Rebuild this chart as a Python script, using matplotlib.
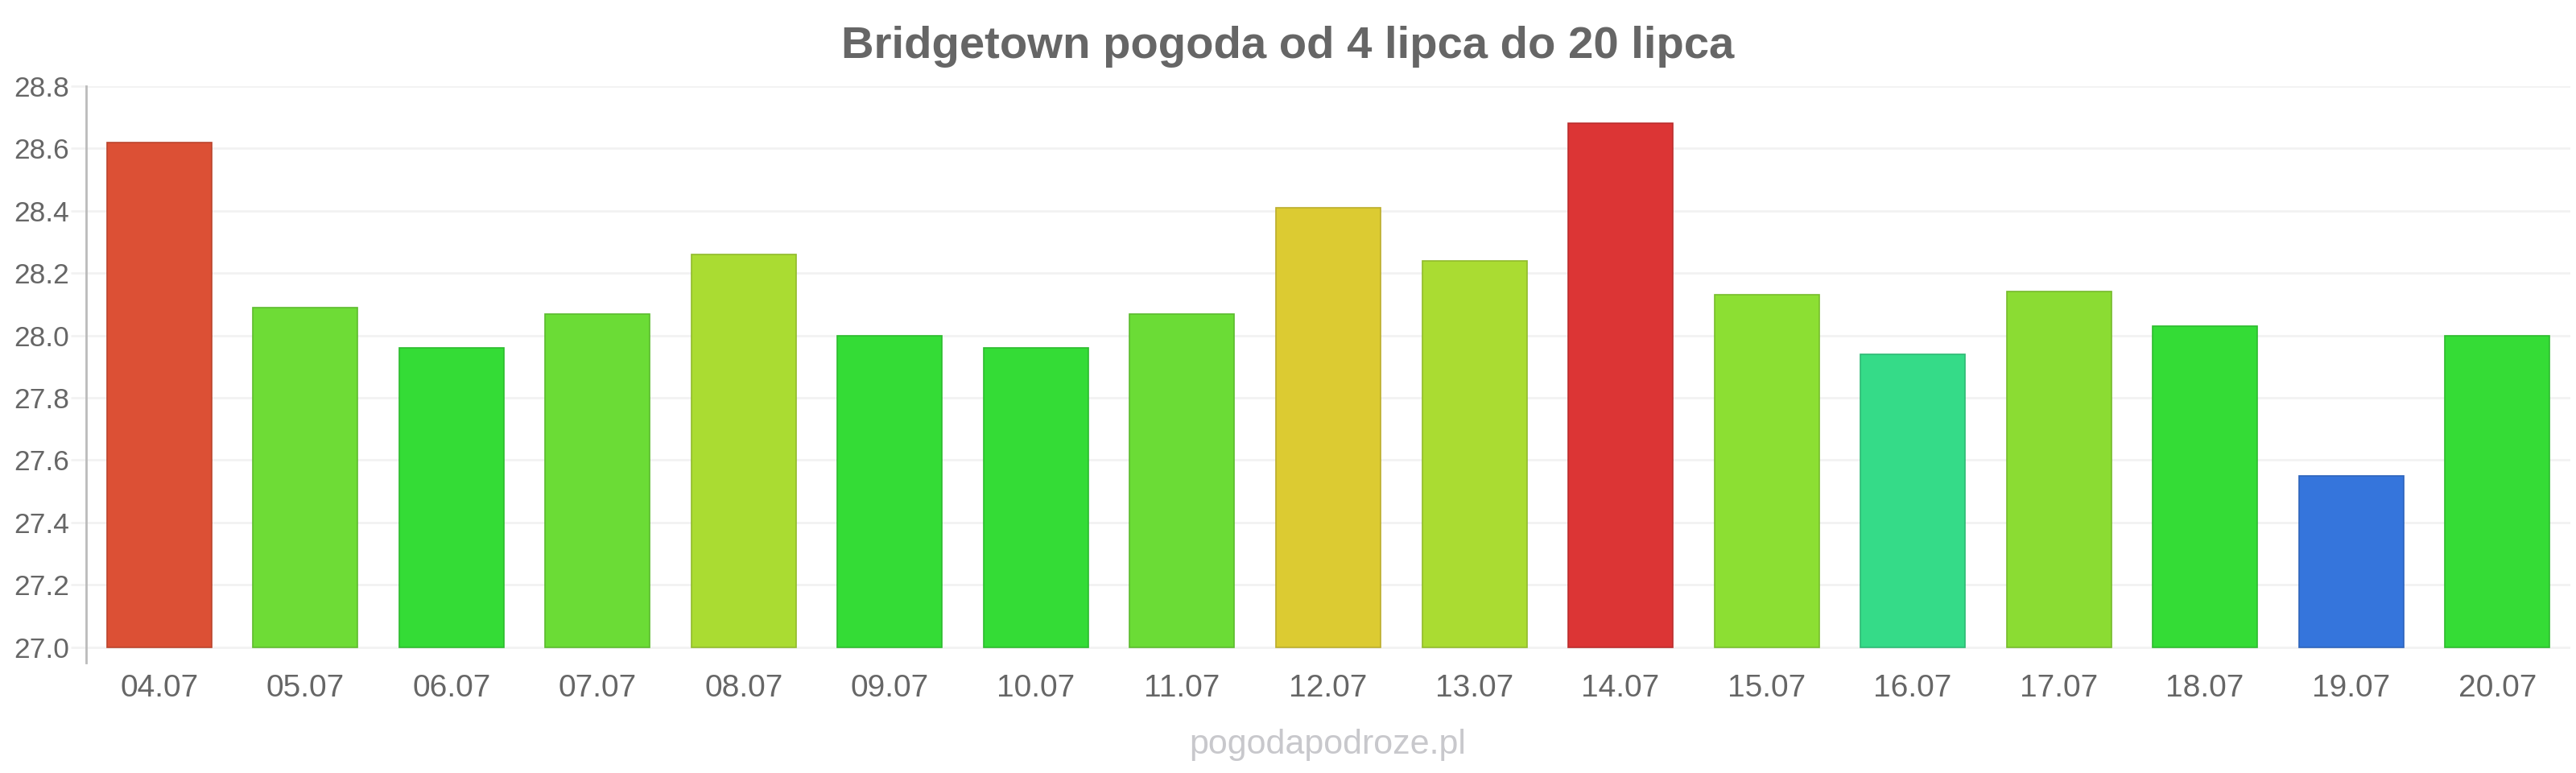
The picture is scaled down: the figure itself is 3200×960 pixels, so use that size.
import matplotlib
matplotlib.use("Agg")
import matplotlib.pyplot as plt
import matplotlib.colors as mcolors

plt.rcParams['font.family'] = ['Liberation Sans', 'DejaVu Sans']

title = "Bridgetown pogoda od 4 lipca do 20 lipca"
watermark = "pogodapodroze.pl"
days = ["04.07", "05.07", "06.07", "07.07", "08.07", "09.07", "10.07", "11.07",
        "12.07", "13.07", "14.07", "15.07", "16.07", "17.07", "18.07", "19.07", "20.07"]
temps = [28.62, 28.09, 27.96, 28.07, 28.26, 28.00, 27.96, 28.07,
         28.41, 28.24, 28.68, 28.13, 27.94, 28.14, 28.03, 27.55, 28.00]
colors = ["#dc5035", "#6edc36", "#34dc36", "#6bdc36", "#aadc32", "#34dc36", "#34dc36", "#6bdc36",
          "#dccb32", "#aadc32", "#dc3535", "#8cdf33", "#35db88", "#8bdc33", "#34dc36", "#3575dc", "#35dc36"]
yticks = [27.0, 27.2, 27.4, 27.6, 27.8, 28.0, 28.2, 28.4, 28.6, 28.8]
base = 27.0

fig = plt.figure(figsize=(32, 9.6), dpi=100)
ax = fig.add_axes([107/3200, 1-823/960, (3193-107)/3200, (823-107)/960])

def darker(c, f=0.85):
    r, g, b = mcolors.to_rgb(c)
    return (r*f, g*f, b*f)

x = list(range(len(days)))
ax.bar(x, [t - base for t in temps], bottom=base, width=0.716,
       color=colors, edgecolor=[darker(c) for c in colors], linewidth=1.2, zorder=3)

ax.set_xlim(-0.5, len(days) - 0.5)
ax.set_ylim(26.95, 28.8)
ax.set_yticks(yticks)
ax.set_yticklabels([f"{v:.1f}" for v in yticks])
ax.set_xticks(x)
ax.set_xticklabels(days)
ax.grid(axis='y', color='#f2f2f2', linewidth=2, zorder=0)
ax.tick_params(axis='y', length=14, width=2, color='#f2f2f2', labelsize=25.5,
               labelcolor='#666666', pad=1)
ax.tick_params(axis='x', length=0, labelsize=28, labelcolor='#666666', pad=10)
for s in ['top', 'right', 'bottom']:
    ax.spines[s].set_visible(False)
ax.spines['left'].set_color('#bbbbbb')
ax.spines['left'].set_linewidth(2)

fig.text(0.5, 1-58/960, title, ha='center', va='center', fontsize=40.5,
         fontweight='bold', color='#666666')
fig.text(1649/3200, 1-925/960, watermark, ha='center', va='center', fontsize=31,
         color='#c8c8cc')

fig.savefig("out.png", dpi=100, facecolor='white')
